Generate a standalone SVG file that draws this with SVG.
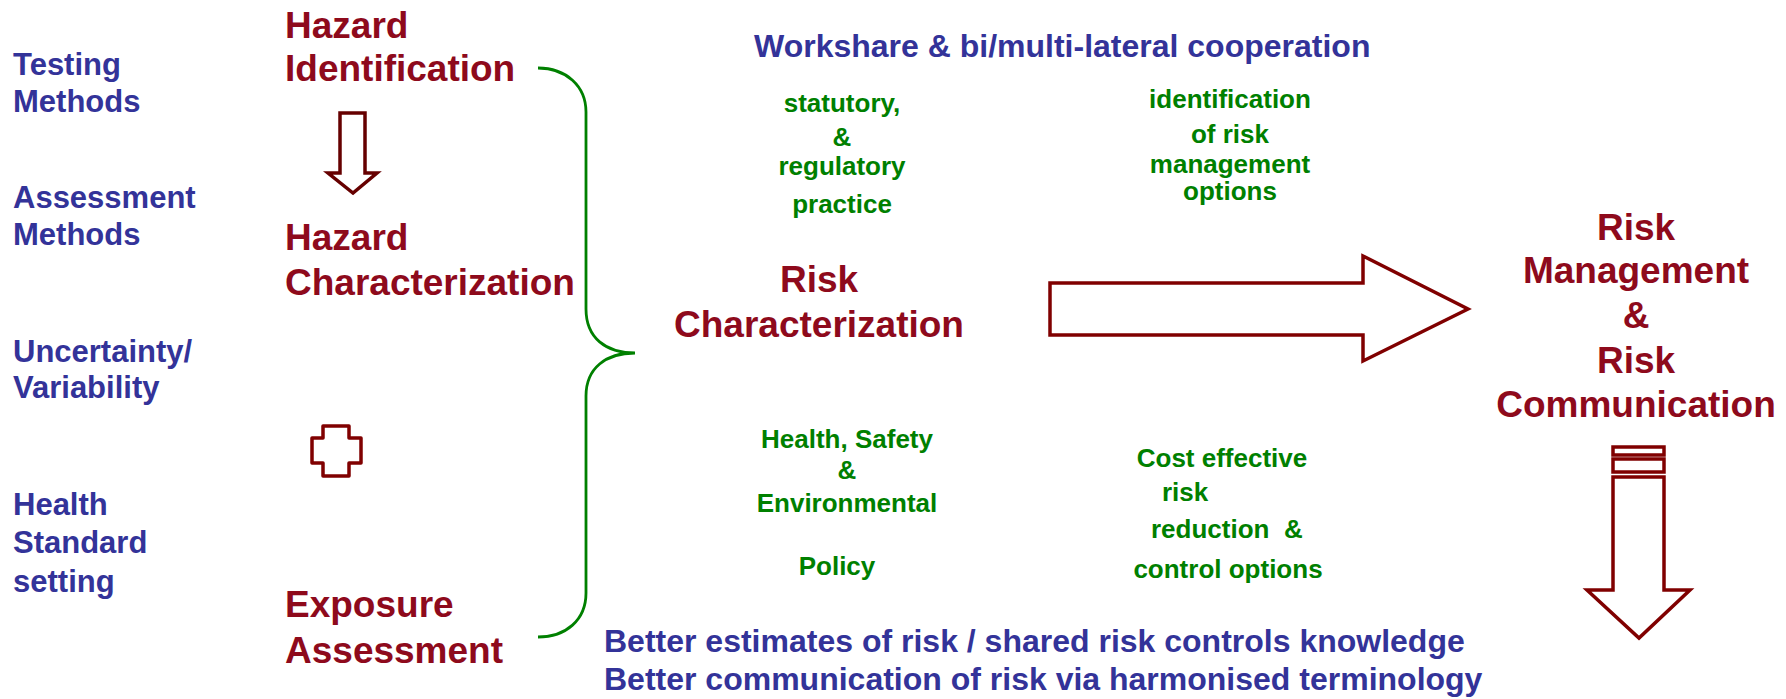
<svg xmlns="http://www.w3.org/2000/svg" width="1786" height="699" viewBox="0 0 1786 699">
<style>
text{font-family:"Liberation Sans",Arial,sans-serif;font-weight:bold}
.red{fill:#8E0A1C;font-size:37px}
.blue{fill:#333399;font-size:31px}
.blue32{fill:#333399;font-size:32px}
.green{fill:#008000;font-size:26px}
.mid{text-anchor:middle}
.arrow{fill:#fff;stroke:#800000;stroke-width:3.5;stroke-linejoin:miter}
.brace{fill:none;stroke:#008000;stroke-width:2.8}
</style>
<rect width="1786" height="699" fill="#fff"/>
<g id="left-topics">
<text class="blue" x="13" y="75">Testing</text>
<text class="blue" x="13" y="112">Methods</text>
<text class="blue" x="13" y="208">Assessment</text>
<text class="blue" x="13" y="245">Methods</text>
<text class="blue" x="13" y="362">Uncertainty/</text>
<text class="blue" x="13" y="398">Variability</text>
<text class="blue" x="13" y="515">Health</text>
<text class="blue" x="13" y="553">Standard</text>
<text class="blue" x="13" y="592">setting</text>
</g>
<g id="hazard-identification">
<text class="red" x="285" y="38">Hazard</text>
<text class="red" x="285" y="81">Identification</text>
</g>
<g id="hazard-characterization">
<text class="red" x="285" y="250">Hazard</text>
<text class="red" x="285" y="295">Characterization</text>
</g>
<g id="exposure-assessment">
<text class="red" x="285" y="617">Exposure</text>
<text class="red" x="285" y="663">Assessment</text>
</g>
<g id="plus">
<path d="M323,426 H349 V438 H361 V463 H349 V476 H323 V463 H312 V438 H323 Z" fill="#fff" stroke="#800000" stroke-width="3.5" stroke-linejoin="round"/>
</g>
<g id="risk-characterization">
<text class="red mid" x="819" y="292">Risk</text>
<text class="red mid" x="819" y="337">Characterization</text>
</g>
<g id="workshare">
<text class="blue32" x="754" y="57">Workshare &amp; bi/multi-lateral cooperation</text>
</g>
<g id="statutory">
<text class="green mid" x="842" y="112">statutory,</text>
<text class="green mid" x="842" y="146">&amp;</text>
<text class="green mid" x="842" y="175">regulatory</text>
<text class="green mid" x="842" y="213">practice</text>
</g>
<g id="identification-options">
<text class="green mid" x="1230" y="108">identification</text>
<text class="green mid" x="1230" y="143">of risk</text>
<text class="green mid" x="1230" y="173">management</text>
<text class="green mid" x="1230" y="200">options</text>
</g>
<g id="hse-policy">
<text class="green mid" x="847" y="448">Health, Safety</text>
<text class="green mid" x="847" y="479">&amp;</text>
<text class="green mid" x="847" y="512">Environmental</text>
<text class="green mid" x="837" y="575">Policy</text>
</g>
<g id="cost-effective">
<text class="green mid" x="1222" y="467">Cost effective</text>
<text class="green" x="1162" y="501">risk</text>
<text class="green" x="1151" y="538" xml:space="preserve">reduction  &amp;</text>
<text class="green mid" x="1228" y="578">control options</text>
</g>
<g id="risk-management">
<text class="red mid" x="1636" y="240">Risk</text>
<text class="red mid" x="1636" y="283">Management</text>
<text class="red mid" x="1636" y="328">&amp;</text>
<text class="red mid" x="1636" y="373">Risk</text>
<text class="red mid" x="1636" y="417">Communication</text>
</g>
<g id="bottom-notes">
<text class="blue32" x="604" y="652">Better estimates of risk / shared risk controls knowledge</text>
<text class="blue32" x="604" y="690">Better communication of risk via harmonised terminology</text>
</g>
<g id="connectors">
<path class="arrow" style="stroke:#660000" d="M340,113 H365 V173 H377 L353,193 L328,173 H340 Z"/>
<path class="brace" d="M538,68 C566,68 586,86 586,112 L586,309 C586,338 606,353 635,353 C606,353 586,368 586,396 L586,593 C586,620 566,637 538,637"/>
<path class="arrow" d="M1050,283 H1363 V256 L1468,309 L1363,361 V335 H1050 Z"/>
<rect class="arrow" x="1613" y="447" width="51" height="8"/>
<rect class="arrow" x="1613" y="459" width="51" height="13"/>
<path class="arrow" d="M1613,477 H1664 V590 H1690 L1639,638 L1587,590 H1613 Z"/>
</g>
</svg>
